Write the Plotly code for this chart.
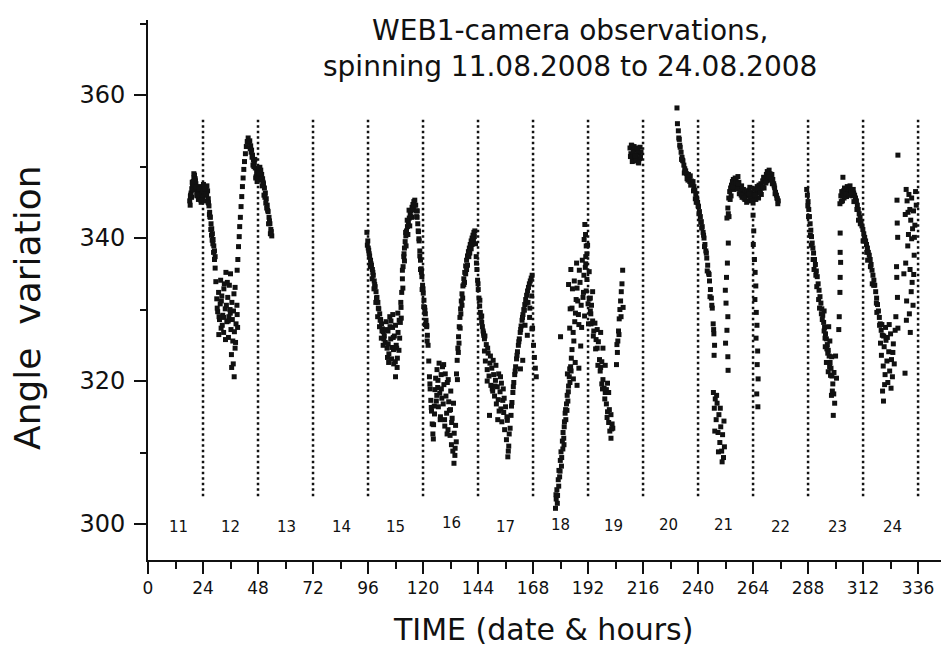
import plotly.graph_objects as go

# ---------------- data (hours since 11.08.2008 00:00, angle in degrees) ----------------
# Day 11-12: first arch
A1_t = [18.2,18.5,18.8,19.1,19.4,19.7,20.0,20.3,20.6,20.9,21.2,21.5,21.8,22.1,22.4,22.7,23.0,23.3,23.6,23.9,24.2,24.5,24.8,25.1,25.4,25.7,26.0,26.3,26.6,26.9,27.2,27.5,27.8,28.1,28.4,28.7,29.0,29.3,
        18.4,19.0,19.6,20.2,20.8,21.4,22.0,22.6,23.2,23.8,24.4,25.0,25.6,26.2,26.8,27.4,28.0,28.6,
        18.6,19.3,20.0,20.7,21.3,22.3,23.1,24.0,24.7,25.5,26.4,27.0,27.7,28.3,29.0]
A1_v = [345.2,345.8,346.3,346.9,347.4,347.9,348.4,348.8,348.3,347.6,347.0,346.5,346.2,346.6,347.2,346.8,346.1,345.6,346.4,347.1,347.5,347.2,346.5,346.0,346.8,347.3,346.6,345.5,344.5,343.6,342.9,342.0,341.3,340.6,339.8,338.9,338.2,337.4,
        344.6,345.7,346.7,347.6,347.1,345.9,345.4,345.9,345.0,345.8,346.4,345.2,346.0,345.0,343.3,341.2,339.7,338.0,
        346.0,347.8,349.0,348.0,346.0,346.9,345.3,346.6,346.8,346.2,344.9,343.0,340.4,339.2,337.0]
# Day 12: scattered minimum
A2_t = [29.3,29.6,30.0,30.4,30.8,31.2,31.5,31.9,32.2,32.6,33.0,33.3,33.7,34.0,34.4,34.8,35.1,35.5,35.9,36.2,36.6,37.0,37.3,37.7,38.0,38.4,38.8,39.1,
        30.2,30.9,31.7,32.4,33.1,33.8,34.6,35.3,36.0,36.8,37.5,38.2,38.9,
        31.0,32.0,33.0,34.2,35.0,35.8,36.4,37.2,38.0,36.5,37.6]
A2_v = [335.8,333.9,331.5,329.7,332.4,328.6,330.8,327.4,331.9,329.2,326.8,333.6,330.1,335.2,328.3,331.7,326.1,333.4,329.5,327.2,331.0,325.6,329.8,326.9,333.1,328.0,330.6,327.5,
        330.2,326.5,334.1,327.8,332.9,325.8,333.8,329.0,335.0,328.6,332.2,325.4,329.3,
        329.0,331.2,328.9,330.6,328.4,330.0,323.7,322.4,324.6,321.9,320.6]
# Day 12: rise
A3_t = [38.9,39.2,39.5,39.8,40.0,40.3,40.6,40.9,41.2,41.5,41.8,42.1,42.5,42.9,43.3,43.7,44.1]
A3_v = [335.5,337.0,338.8,340.2,341.6,342.9,344.4,345.8,347.2,348.4,349.6,350.7,351.8,352.8,353.5,354.0,353.4]
# Day 12-13: descent
A4_t = [44.4,44.8,45.2,45.6,46.0,46.4,46.8,47.2,47.6,48.0,48.4,48.8,49.2,49.6,50.0,50.4,50.8,51.2,51.6,52.0,52.4,52.8,53.2,53.6,54.0,
        45.0,45.8,46.6,47.4,48.2,49.0,49.8,50.6,51.4,52.2,53.0,53.8,
        44.6,45.4,46.2,47.0,47.8,48.6,49.4,50.2,51.0,51.8,52.6,53.4]
A4_v = [353.6,352.9,352.3,351.6,350.9,350.6,349.8,348.6,347.9,348.9,349.7,349.9,349.5,348.9,348.3,347.6,347.0,346.3,345.5,344.6,343.7,342.9,342.0,341.2,340.3,
        352.0,350.2,351.0,349.2,348.1,348.7,347.3,346.0,344.9,343.9,342.4,340.9,
        352.5,351.3,350.0,348.4,348.3,349.1,348.2,347.8,345.7,344.2,342.0,340.6]

# Day 15
B1_t = [95.5,95.9,96.3,96.7,97.1,97.5,97.9,98.3,98.7,99.1,99.5,99.9,100.3,100.7,101.1,101.5,101.9,102.3,102.7,103.1,
        95.7,96.5,97.3,98.1,98.9,99.7,100.5,101.3,102.1,102.9,
        96.1,97.0,97.8,98.6,99.4,100.2,101.0,101.8,102.6]
B1_v = [340.8,339.6,338.3,337.5,336.9,336.2,335.6,334.8,334.0,333.2,332.5,331.7,331.0,330.1,329.4,328.6,328.0,327.3,326.9,326.3,
        339.0,337.8,336.4,335.2,333.5,331.6,330.2,328.5,327.0,325.9,
        338.6,336.0,334.3,332.9,331.0,329.0,327.6,326.0,325.0]
B2_t = [103.5,103.9,104.3,104.7,105.1,105.5,105.9,106.3,106.7,107.1,107.5,107.9,108.3,108.7,109.1,109.5,
        104.0,104.8,105.6,106.4,107.2,108.0,108.8,109.6,
        105.0,106.0,107.0,108.0,109.0,104.5,106.8,108.5]
B2_v = [325.4,328.3,324.6,327.0,323.8,329.0,325.9,323.1,327.5,324.4,326.3,322.7,325.0,321.9,326.8,324.3,
        327.2,325.2,327.6,324.7,322.4,327.8,323.2,328.5,
        322.6,328.4,326.1,320.6,329.5,323.3,329.3,324.6]
B3_t = [109.8,110.1,110.4,110.7,111.0,111.3,111.6,111.9,112.2,112.5,112.8,113.2,113.6,114.0,114.4,114.8,115.2,115.6,116.0,116.4,
        110.5,111.2,111.9,112.6,113.4,114.2,115.0,115.8,
        110.3,111.0,111.7,112.4,113.1,113.9,114.7,115.5,116.2]
B3_v = [326.0,328.2,330.3,332.4,334.3,336.0,337.4,338.6,339.5,340.3,341.0,341.6,342.2,342.8,343.3,343.8,344.3,344.7,345.1,345.3,
        328.8,333.0,336.8,338.9,340.5,341.7,342.9,344.0,
        331.0,335.5,337.8,340.8,342.5,343.9,343.0,344.0,344.6]
B4_t = [116.8,117.1,117.4,117.7,118.0,118.3,118.6,118.9,119.2,119.5,119.8,120.1,120.4,120.7,121.0,121.3,121.6,121.9,122.2,
        117.2,117.9,118.6,119.3,120.0,120.8,121.6,
        117.5,118.2,118.9,119.6,120.3,121.0,121.8]
B4_v = [344.6,343.8,342.9,342.0,340.9,339.6,338.2,336.9,335.7,334.6,333.4,332.3,331.3,330.3,329.4,328.5,327.6,326.4,325.0,
        343.0,341.0,337.5,335.2,332.9,329.9,327.8,
        343.8,339.9,335.6,332.8,330.4,327.9,325.6]
# Day 16
B5_t = [122.5,122.8,123.1,123.4,123.7,124.0,124.3,124.6,124.9,125.2,125.5,125.8,126.1,126.4,126.7,127.0,127.3,127.6,127.9,128.2,128.5,128.8,129.1,129.4,129.7,130.0,130.3,130.6,130.9,131.2,131.5,131.8,132.1,132.4,132.7,133.0,133.3,133.6,133.9,134.2,134.5,
        123.0,124.5,126.0,127.5,129.0,130.5,132.0,133.5,
        123.6,125.0,126.5,128.0,129.5,131.0,132.5,134.0]
B5_v = [322.8,320.6,318.9,317.3,315.8,314.0,312.6,313.9,316.5,318.8,320.4,317.2,321.6,319.1,316.4,322.5,318.3,315.0,320.9,317.6,322.0,316.8,319.5,314.6,321.0,317.9,315.5,319.8,313.2,317.1,315.9,312.4,318.6,311.1,314.8,310.2,316.9,312.7,309.6,313.8,311.5,
        319.6,311.9,318.0,314.6,322.3,312.6,316.0,308.5,
        316.3,315.4,320.1,318.9,313.7,320.2,314.2,310.6]
B6_t = [134.6,134.9,135.2,135.5,135.8,136.1,136.4,136.7,137.0,137.4,137.8,138.2,138.6,139.0,139.4,139.8,140.2,140.6,141.0,141.4,141.8,142.2,142.6,
        135.0,135.7,136.5,137.3,138.1,139.0,140.0,141.0,142.0,
        135.4,136.2,137.0,137.8,138.6,139.4,140.4,141.4,142.4]
B6_v = [321.0,322.9,324.6,326.2,327.6,328.9,330.1,331.2,332.2,333.3,334.3,335.2,336.1,336.9,337.5,338.1,338.6,339.1,339.6,340.0,340.4,340.8,341.0,
        320.2,325.3,329.4,331.6,333.8,335.6,337.4,338.5,339.8,
        324.0,327.4,330.6,333.5,335.0,336.2,337.9,339.1,340.2]
B7_t = [142.9,143.2,143.5,143.8,144.1,144.4,144.7,145.0,145.3,145.6,145.9,146.2,146.5,146.8,
        143.3,144.0,144.8,145.6,146.4]
B7_v = [339.2,337.4,335.6,334.1,332.8,331.6,330.5,329.6,328.9,328.2,327.6,327.0,326.4,325.9,
        336.5,333.6,331.3,329.1,326.7]
# Day 17
B8_t = [146.8,147.2,147.6,148.0,148.4,148.8,149.2,149.6,150.0,150.4,150.8,151.2,151.6,152.0,152.4,152.8,153.2,153.6,154.0,154.4,154.8,155.2,155.6,156.0,156.4,156.8,157.2,157.6,
        147.0,148.2,149.4,150.6,151.8,153.0,154.2,155.4,156.6,
        148.0,149.0,150.2,151.4,152.6,153.8,155.0,157.0,157.4]
B8_v = [324.2,322.8,325.1,321.6,323.9,320.7,322.5,319.4,321.8,318.6,320.9,317.9,320.1,316.8,319.2,317.4,315.8,318.5,316.1,314.3,317.3,315.6,313.2,316.4,311.8,314.5,310.2,312.6,
        326.3,324.6,323.5,322.9,322.2,321.0,319.7,317.6,315.0,
        320.0,315.2,318.9,319.3,314.6,320.6,318.9,309.4,310.9]
B9_t = [158.0,158.4,158.8,159.2,159.6,160.0,160.4,160.8,161.2,161.6,162.0,162.4,162.8,163.2,163.6,164.0,164.4,164.8,165.2,165.6,166.0,166.4,166.8,167.2,167.6,
        158.6,159.4,160.2,161.0,161.8,162.6,163.4,164.2,165.0,165.8,166.6,167.4,
        162.5,163.5,164.5,165.5,166.5,167.5,
        167.8,168.2,168.6,169.0,169.4]
B9_v = [313.4,315.2,317.0,318.4,319.8,320.9,322.0,323.1,324.1,325.0,325.9,326.8,327.7,328.5,329.3,330.0,330.7,331.4,332.0,332.6,333.1,333.6,334.0,334.4,334.8,
        316.5,319.2,321.4,323.6,325.5,327.2,328.9,329.9,330.9,331.0,330.2,331.9,
        321.7,322.9,327.8,326.4,328.9,327.3,
        327.4,325.0,323.3,321.8,320.6]

# Day 18
C1_t = [177.8,178.1,178.4,178.7,179.0,179.3,179.6,179.9,180.2,180.5,180.8,181.1,181.4,181.7,182.0,182.3,182.6,182.9,183.2,183.5,183.8,184.1,184.4,184.7,185.0,
        178.0,178.6,179.2,179.8,180.4,181.0,181.6,182.2,182.8,183.4,184.0,184.6,
        180.0,181.5,183.0,185.6,186.4,187.2,188.0]
C1_v = [302.2,303.5,304.8,304.0,306.2,307.5,306.6,308.9,310.1,309.3,311.6,312.8,312.0,314.3,315.5,314.6,316.8,318.0,317.2,319.3,320.6,319.8,322.0,323.2,324.4,
        304.1,302.9,305.3,307.4,308.1,310.5,313.6,316.0,315.9,318.5,321.7,321.4,
        326.2,311.1,321.0,320.3,322.6,319.4,321.8]
C2_t = [183.5,184.0,184.5,185.0,185.5,186.0,186.5,187.0,187.5,188.0,188.5,189.0,189.5,190.0,190.5,191.0,191.5,192.0,192.5,193.0,
        184.2,185.2,186.2,187.2,188.2,189.2,190.2,191.2,192.2,193.2,
        185.8,186.8,187.8,188.8,189.8,190.8,191.8,
        190.6,190.9,191.2,191.5,190.3,191.0]
C2_v = [333.5,327.4,335.6,330.2,326.8,334.0,329.5,336.5,331.2,327.9,333.8,330.6,336.9,332.4,329.1,337.4,334.2,330.8,335.3,331.6,
        330.1,332.9,328.3,333.0,335.5,327.5,334.8,332.6,328.0,329.4,
        325.6,331.4,329.3,324.9,331.7,335.9,339.0,
        341.9,340.5,338.9,337.8,339.8,336.4]
C3_t = [192.5,193.0,193.5,194.0,194.5,195.0,195.5,196.0,196.5,197.0,197.5,198.0,198.5,199.0,199.5,200.0,200.5,201.0,201.5,202.0,
        193.3,194.3,195.3,196.3,197.3,198.3,199.3,200.3,201.3,202.3,
        194.0,196.0,198.0,200.0,202.5,
        197.5,198.5,199.5,200.5,201.0,202.0,202.8]
C3_v = [331.5,329.8,330.6,328.4,327.0,328.1,325.8,324.6,325.5,323.0,321.9,322.7,320.2,319.0,318.4,316.8,315.7,314.2,313.0,312.0,
        328.0,326.3,324.5,322.2,321.4,318.9,317.5,314.9,316.0,313.3,
        332.5,327.2,319.6,318.8,314.0,
        326.8,324.6,322.2,319.7,318.4,315.3,313.4]
# Day 19
C4_t = [204.4,204.8,205.0,205.3,205.6,205.9,206.2,206.5,206.8,207.1,207.3,204.6,205.5,206.4]
C4_v = [322.3,324.0,325.6,327.0,328.7,330.0,331.2,332.5,333.6,335.5,330.3,325.1,326.5,329.0]
C5_t = [210.3,210.7,211.1,211.5,211.9,212.3,212.7,213.1,213.5,213.9,214.3,214.7,215.1,
        210.5,211.3,212.1,212.9,213.7,214.5,
        210.9,211.7,212.5,213.3,214.1,214.9]
C5_v = [352.6,351.8,352.9,351.2,352.3,350.8,351.6,352.4,351.0,350.6,351.9,352.7,352.0,
        351.4,350.7,352.8,350.9,352.2,351.1,
        353.0,352.0,351.5,352.6,350.5,351.3]

# Day 20-21
D1_t = [230.8,231.0,231.4,231.8,232.2,232.6,233.0,233.4,233.8,234.2,234.6,235.0,235.4,235.8,236.2,236.6,237.0,237.4,237.8,
        238.2,238.6,239.0,239.4,239.8,240.2,240.6,241.0,241.4,241.8,242.2,242.6,243.0,243.4,243.8,244.2,244.6,245.0,245.4,245.8,246.2,
        231.6,232.8,234.0,235.2,236.4,237.6,238.8,240.0,241.2,242.4,243.6,244.8,246.0,
        232.0,233.2,234.4,235.6,236.8,238.0,239.2,240.4,241.6,242.8,244.0,245.2]
D1_v = [358.2,356.0,355.0,353.8,352.7,352.0,351.3,350.8,350.2,349.7,349.4,349.0,348.6,348.9,348.2,348.7,348.0,347.5,347.9,
        347.2,346.7,346.2,345.6,345.0,344.4,343.7,343.0,342.3,341.6,340.8,340.0,339.1,338.2,337.2,336.2,335.1,334.0,332.8,331.6,330.2,
        354.0,351.0,349.1,348.3,347.9,347.6,345.5,344.5,342.2,340.4,337.9,334.9,330.6,
        353.0,350.9,349.3,348.1,347.4,346.6,345.0,343.4,341.4,338.8,335.4,331.8]
D2_t = [246.6,246.9,247.2,247.0,246.8,
        246.7,247.1,247.5,247.9,248.3,248.7,249.1,249.5,249.9,250.3,250.7,251.1,251.5,
        247.3,248.1,248.9,249.7,250.5,251.3]
D2_v = [328.0,326.6,325.0,323.6,327.2,
        318.4,316.2,317.5,314.6,316.9,312.8,315.3,311.4,313.6,310.2,312.5,309.3,310.8,
        313.0,318.0,310.1,316.2,308.7,314.4]
D3_t = [253.5,253.2,252.8,252.4,251.9,252.2,253.0,252.6,252.0,253.0,253.1]
D3_v = [343.0,339.3,336.5,334.5,332.7,330.9,329.0,327.1,325.3,323.4,321.5]
# Day 21-22 plateau
D4_t = [252.6,253.0,253.4,253.8,254.2,254.6,255.0,255.4,255.8,256.2,256.6,257.0,257.4,257.8,258.2,258.6,259.0,259.4,259.8,260.2,260.6,261.0,261.4,261.8,262.2,262.6,263.0,263.4,263.8,264.2,264.6,265.0,265.4,265.8,266.2,266.6,267.0,267.4,267.8,268.2,268.6,269.0,269.4,269.8,270.2,270.6,271.0,271.4,271.8,272.2,272.6,273.0,273.4,273.8,274.2,274.6,275.0,
        253.2,254.4,255.6,256.8,258.0,259.2,260.4,261.6,262.8,264.0,265.2,266.4,267.6,268.8,270.0,271.2,272.4,273.6,274.8,
        254.0,255.2,256.4,257.6,258.8,260.0,261.2,262.4,263.6,264.8,266.0,267.2,268.4,269.6,270.8,272.0,273.2,274.4]
D4_v = [342.8,344.2,345.6,346.5,347.0,347.4,347.9,348.2,347.5,348.4,348.0,347.3,348.6,347.8,347.0,346.6,347.3,346.4,346.8,346.2,346.5,345.9,346.6,346.1,346.7,347.1,346.4,345.8,346.2,345.6,346.9,346.0,346.5,347.2,346.3,347.4,346.8,347.6,347.0,348.0,348.5,347.8,348.4,348.9,349.3,348.7,349.5,349.0,348.5,348.9,348.2,347.6,347.0,346.4,346.0,345.5,345.2,
        343.4,345.9,346.8,346.9,346.2,345.7,345.4,345.2,345.8,344.9,345.4,345.6,346.1,347.0,348.0,348.1,347.6,346.2,344.8,
        345.4,347.2,347.7,347.6,346.0,345.6,345.0,346.2,345.2,346.0,346.9,346.3,347.1,347.7,348.6,348.2,347.3,345.6]
D5_t = [264.0,264.3,264.1,264.6,264.9,265.2,264.8,265.4,265.7,265.3,266.0,265.8,266.2,265.6,266.1]
D5_v = [343.2,341.0,339.1,337.0,335.2,333.3,331.4,329.6,327.8,326.0,324.2,322.3,320.3,318.2,316.4]

# Day 23
E1_t = [287.4,287.7,288.0,288.3,288.6,288.9,289.2,289.5,289.8,290.1,290.4,290.8,291.2,291.6,292.0,292.4,292.8,293.2,293.6,294.0,294.4,294.8,295.2,295.6,296.0,296.4,296.8,297.2,297.6,298.0,298.4,298.8,299.2,299.6,
        288.2,289.4,290.6,291.8,293.0,294.2,295.4,296.6,297.8,299.0,298.3,297.0,296.0,295.0,
        295.5,296.8,297.5,298.2,299.3,300.0,300.4,
        287.9,289.0,290.2,291.4,292.6,293.8,295.0,296.2,297.4,298.6]
E1_v = [346.8,346.0,345.1,344.0,343.0,342.0,341.1,340.2,339.3,338.6,337.9,337.0,336.3,335.4,334.6,333.6,332.7,331.8,330.9,330.1,329.2,328.2,327.5,326.6,325.9,325.1,324.3,323.5,322.6,321.8,320.7,319.6,318.2,316.9,
        343.0,339.0,335.6,333.2,330.2,328.6,326.0,323.9,320.8,315.2,323.4,327.6,322.6,329.8,
        324.8,321.3,325.6,318.0,321.2,323.5,320.4,
        344.5,340.4,337.0,334.8,331.4,329.4,327.0,324.5,322.0,318.6]
E2_t = [302.0,302.0,302.2,302.0,301.9,301.6,301.4,303.2]
E2_v = [340.7,338.0,336.6,334.5,332.4,329.0,327.2,348.5]
E3_t = [301.9,302.3,302.7,303.1,303.5,303.9,304.3,304.7,305.1,305.5,305.9,306.3,306.7,307.1,307.5,307.9,
        308.3,308.7,309.1,309.5,309.9,310.3,310.7,311.1,311.5,311.9,312.3,312.7,313.1,313.5,313.9,314.3,314.7,315.1,315.5,315.9,316.3,316.7,317.1,317.5,317.9,318.3,318.7,319.1,319.5,319.9,
        303.0,304.8,306.6,308.0,310.0,312.0,314.0,316.0,318.0,
        302.5,303.7,304.5,305.7,306.9,307.7,309.3,310.8,312.2,313.6,315.2,316.6,317.8,319.2]
E3_v = [344.8,345.9,346.5,346.0,346.6,347.0,346.4,346.8,347.2,346.5,346.9,347.3,346.7,346.2,345.9,346.3,
        346.0,345.6,345.2,344.6,344.0,343.4,342.9,342.3,341.7,341.2,340.6,340.1,339.6,339.1,338.6,338.0,337.6,337.0,336.3,335.5,334.8,334.1,333.4,332.5,331.6,330.7,329.8,328.9,328.0,327.1,
        345.2,345.8,346.0,345.1,342.5,339.6,336.9,333.6,329.6,
        345.1,345.6,346.1,346.0,346.3,346.8,344.0,342.0,339.6,338.0,336.0,333.4,330.9,327.8]
# Day 24
E4_t = [319.6,320.0,320.4,320.8,321.2,321.6,322.0,322.4,322.8,323.2,323.6,324.0,324.4,324.8,325.2,325.6,
        320.2,321.0,321.8,322.6,323.4,324.2,325.0,320.5,320.9,321.4]
E4_v = [325.3,323.6,326.4,322.1,324.8,320.9,325.7,322.8,319.8,324.1,321.4,326.6,323.0,320.6,325.2,322.4,
        327.9,326.3,327.5,326.1,327.9,319.0,324.0,318.6,317.2,319.5]
E5_t = [327.2,326.8,326.9,327.1,326.6,326.7,327.0,326.3,326.0,327.2,330.3,330.8,331.2,331.6,332.0,332.4,332.8,333.2,333.6,334.0,334.4,
        330.6,331.5,332.5,333.4,334.3,331.0,332.2,333.0,334.1,330.9,332.6,333.8,331.8,333.2,334.6,329.8,330.4,334.9,335.2]
E5_v = [351.6,345.3,342.1,340.1,336.0,334.5,331.7,329.0,327.1,327.4,321.1,346.8,345.2,343.6,346.1,344.0,342.5,345.6,341.3,343.8,340.1,
        336.5,338.9,335.6,333.8,337.6,331.2,329.4,332.5,334.9,328.5,326.8,330.6,340.5,339.9,341.8,335.0,343.3,346.5,344.6]

# day separators (hours) and day labels
day_lines = [24, 48, 72, 96, 120, 144, 168, 192, 216, 240, 264, 288, 312, 336]
day_line_span = [303.9, 356.8]
day_labels = ["11", "12", "13", "14", "15", "16", "17", "18", "19", "20", "21", "22", "23", "24"]
day_label_hours = [13.1, 36.2, 60.3, 84.3, 107.9, 132.3, 155.9, 180.0, 203.0, 227.0, 251.0, 276.0, 301.0, 325.0]
day_label_values = [299.6, 299.6, 299.6, 299.6, 299.6, 300.1, 299.6, 299.8, 299.7, 299.8, 299.8, 299.6, 299.6, 299.6]

x_ticks = [0, 24, 48, 72, 96, 120, 144, 168, 192, 216, 240, 264, 288, 312, 336]
y_ticks = [300, 320, 340, 360]

segments = [(A1_t, A1_v), (A2_t, A2_v), (A3_t, A3_v), (A4_t, A4_v),
            (B1_t, B1_v), (B2_t, B2_v), (B3_t, B3_v), (B4_t, B4_v), (B5_t, B5_v),
            (B6_t, B6_v), (B7_t, B7_v), (B8_t, B8_v), (B9_t, B9_v),
            (C1_t, C1_v), (C2_t, C2_v), (C3_t, C3_v), (C4_t, C4_v), (C5_t, C5_v),
            (D1_t, D1_v), (D2_t, D2_v), (D3_t, D3_v), (D4_t, D4_v), (D5_t, D5_v),
            (E1_t, E1_v), (E2_t, E2_v), (E3_t, E3_v), (E4_t, E4_v), (E5_t, E5_v)]

xs, ys = [], []
for t, v in segments:
    for a, b in zip(t, v):
        xs.append(a)
        ys.append(b)

FONT = "DejaVu Sans, Liberation Sans, Arial, sans-serif"

fig = go.Figure()

# dotted day separators
sep_x, sep_y = [], []
for h in day_lines:
    sep_x += [h, h, None]
    sep_y += [day_line_span[0], day_line_span[1], None]
fig.add_trace(go.Scatter(x=sep_x, y=sep_y, mode="lines",
                         line=dict(color="#111111", width=2.5, dash="2.5px,3px"),
                         showlegend=False, hoverinfo="skip"))

fig.add_trace(go.Scatter(x=xs, y=ys, mode="markers",
                         marker=dict(symbol="square", size=5, color="#111111", line=dict(width=0)),
                         showlegend=False, hoverinfo="skip"))

for lab, hx, vy in zip(day_labels, day_label_hours, day_label_values):
    fig.add_annotation(x=hx, y=vy, text=lab, showarrow=False, xref="x", yref="y",
                       font=dict(family=FONT, size=15, color="#111"))

fig.add_annotation(xref="paper", yref="paper", x=0.532, y=0.948, yanchor="middle",
                   text="WEB1-camera observations,<br>spinning 11.08.2008 to 24.08.2008",
                   showarrow=False, align="center",
                   font=dict(family=FONT, size=28, color="#111"))
fig.add_annotation(xref="paper", yref="paper", x=0.498, y=-0.1296, yanchor="middle",
                   text="TIME (date &amp; hours)", showarrow=False,
                   font=dict(family=FONT, size=30, color="#111"))
fig.add_annotation(xref="paper", yref="paper", x=-0.1513, y=0.4667, xanchor="center",
                   yanchor="middle", textangle=-90,
                   text="Angle  variation", showarrow=False,
                   font=dict(family=FONT, size=36, color="#111"))

fig.update_layout(
    width=941, height=654,
    margin=dict(l=148, r=0, t=20, b=94),
    plot_bgcolor="white", paper_bgcolor="white",
    xaxis=dict(range=[0, 346], tickvals=x_ticks, ticktext=[str(v) for v in x_ticks],
               ticks="outside", ticklen=12, tickwidth=2, tickcolor="#111",
               showline=True, linewidth=2, linecolor="#111",
               showgrid=False, zeroline=False,
               tickfont=dict(family=FONT, size=17, color="#111"),
               minor=dict(dtick=12, tick0=0, ticks="outside", ticklen=7, tickwidth=2,
                          tickcolor="#111", showgrid=False)),
    yaxis=dict(range=[294.97, 370.5], tickvals=y_ticks, ticktext=[str(v) for v in y_ticks],
               ticks="outside", ticklen=12, tickwidth=2, tickcolor="#111",
               showline=True, linewidth=2, linecolor="#111",
               showgrid=False, zeroline=False, ticklabelstandoff=4,
               tickfont=dict(family=FONT, size=24, color="#111"),
               minor=dict(dtick=10, tick0=300, ticks="outside", ticklen=6, tickwidth=2,
                          tickcolor="#111", showgrid=False)),
)

fig.write_html("out.html")
